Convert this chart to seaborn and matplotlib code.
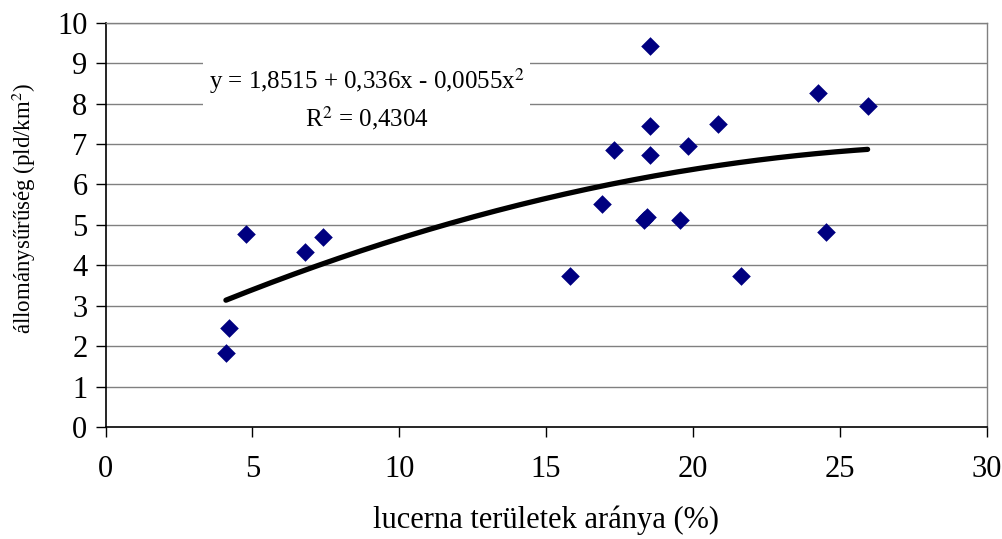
import numpy as np
import pandas as pd
import matplotlib
matplotlib.use("Agg")
import matplotlib.pyplot as plt
import seaborn as sns

# Data
lucerna_pct = [4.1, 4.2, 4.8, 6.8, 7.4, 15.8, 16.9, 17.3, 18.35, 18.45, 18.55, 18.55, 18.55,
               19.55, 19.85, 20.85, 21.65, 24.25, 24.55, 25.95]
density = [1.82, 2.44, 4.77, 4.34, 4.71, 3.73, 5.52, 6.85, 5.13, 5.19, 9.42, 7.44, 6.73,
           5.12, 6.95, 7.49, 3.73, 8.27, 4.83, 7.94]
# Trendline coefficients shown in the chart: y = c0 + c1 x + c2 x^2
trend_coef = [1.8515, 0.336, -0.0055]
trend_range = [4.1, 25.95]
x_ticks = [0, 5, 10, 15, 20, 25, 30]
y_ticks = [0, 1, 2, 3, 4, 5, 6, 7, 8, 9, 10]

sns.set_theme(style="white")
plt.rcParams['font.family'] = ['Liberation Serif', 'DejaVu Serif']
plt.rcParams['mathtext.fontset'] = 'stix'

fig = plt.figure(figsize=(10.03, 5.39), dpi=100)
ax = fig.add_axes([0.1052, 0.2078, 0.8784, 0.7501])

df = pd.DataFrame({"x": lucerna_pct, "y": density})
xs = np.linspace(trend_range[0], trend_range[1], 200)
ys = trend_coef[0] + trend_coef[1] * xs + trend_coef[2] * xs ** 2
trend = pd.DataFrame({"x": xs, "y": ys})

for yv in y_ticks[1:]:
    ax.axhline(yv, color="#808080", lw=1.0, zorder=0)

sns.lineplot(data=trend, x="x", y="y", ax=ax, color="black", lw=3.8, zorder=2)
sns.scatterplot(data=df, x="x", y="y", ax=ax, marker="D", color="#000080",
                s=90, edgecolor="#000080", linewidth=0, zorder=3)

ax.set_xlim(0, 30)
ax.set_ylim(0, 10)
ax.set_xticks(x_ticks)
ax.set_yticks(y_ticks)
ax.tick_params(axis="both", direction="out", length=7, width=1, color="black",
               labelsize=22, labelcolor="black")
ax.tick_params(axis="x", pad=13)
ax.tick_params(axis="y", pad=6)
ax.tick_params(left=True, bottom=True)

for side in ["left", "bottom"]:
    ax.spines[side].set_color("black")
    ax.spines[side].set_linewidth(1.2)
for side in ["top", "right"]:
    ax.spines[side].set_color("#808080")
    ax.spines[side].set_linewidth(1.0)

ax.set_xlabel("lucerna területek aránya (%)", fontsize=22, labelpad=16, color="black")
ax.set_ylabel("állománysűrűség (pld/km$^{2}$)", fontsize=16.5, color="black")
ax.yaxis.set_label_coords(-0.077, 0.54)

ax.text(8.9, 8.12, "y = 1,8515 + 0,336x - 0,0055x$^{2}$\nR$^{2}$ = 0,4304",
        ha="center", va="center", fontsize=18, linespacing=1.35, color="black",
        bbox=dict(facecolor="white", edgecolor="none", pad=4), zorder=4)

fig.savefig("out.png", dpi=100)
